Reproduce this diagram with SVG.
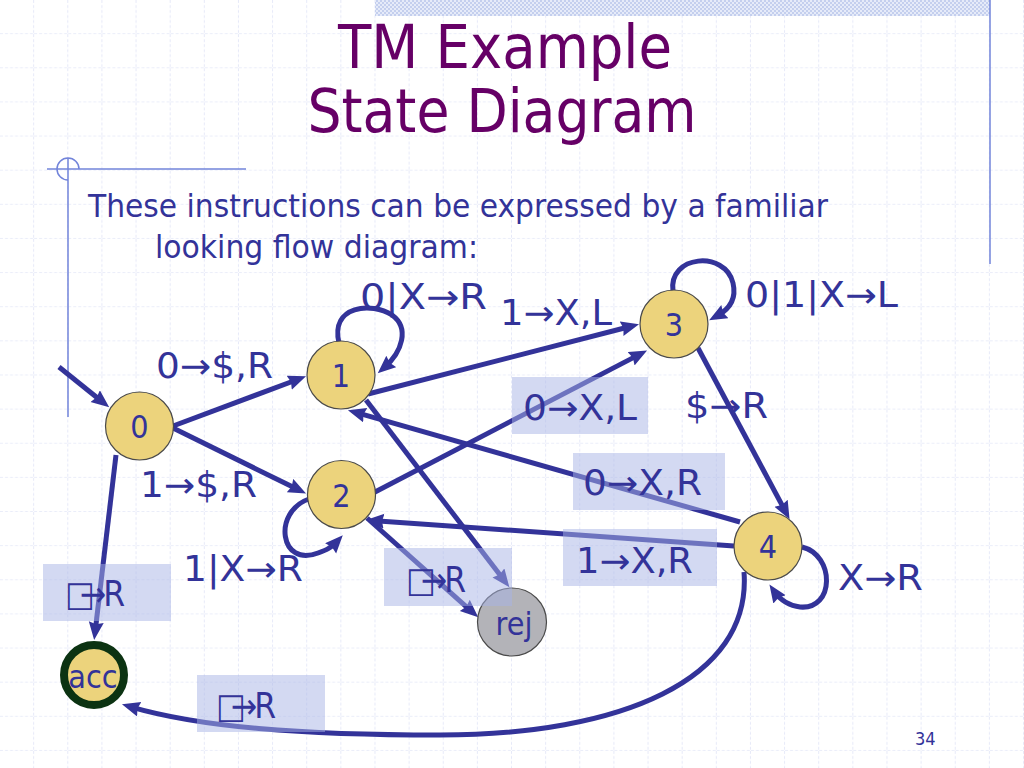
<svg xmlns="http://www.w3.org/2000/svg" width="1024" height="768" viewBox="0 0 1024 768">
<defs>
<pattern id="grid" width="34.133" height="34.133" patternUnits="userSpaceOnUse">
<path d="M34.133 0V34.133M0 34.133H34.133" fill="none" stroke="#d6dbf4" stroke-width="1.2" stroke-dasharray="3 2"/>
</pattern>
<pattern id="dots" width="4" height="4" patternUnits="userSpaceOnUse">
<rect width="4" height="4" fill="#e6ebf9"/>
<rect width="2" height="2" fill="#c4cfee"/>
<rect x="2" y="2" width="2" height="2" fill="#c4cfee"/>
</pattern>
<marker id="ah" markerWidth="20" markerHeight="16" refX="9" refY="7.5" orient="auto" markerUnits="userSpaceOnUse">
<path d="M0,0 L18,7.5 L0,15 L2,7.5 z" fill="#333399"/>
</marker>
<style>
.edge{fill:none;stroke:#333399;stroke-width:5;marker-end:url(#ah)}
.node{fill:#ecd37c;stroke:#4a4a4a;stroke-width:1.2}
.nt{font-family:"DejaVu Sans","Liberation Sans",sans-serif;font-stretch:condensed;font-size:32px;fill:#333399;text-anchor:middle}
.lbl{font-family:"DejaVu Sans","Liberation Sans",sans-serif;font-stretch:condensed;font-size:35px;fill:#333399}
.box{fill:#a7b3e5;fill-opacity:0.5}
.body{font-family:"DejaVu Sans","Liberation Sans",sans-serif;font-stretch:condensed;font-size:32px;fill:#333399}
.title{font-family:"DejaVu Sans","Liberation Sans",sans-serif;font-stretch:condensed;font-size:60px;fill:#660066;text-anchor:middle}
.deco{fill:none;stroke:#7284da;stroke-width:1.5}
</style>
</defs>
<rect width="1024" height="768" fill="#ffffff"/>
<rect width="1024" height="768" fill="url(#grid)"/>
<rect x="375" y="0" width="615" height="16" fill="url(#dots)"/>
<g id="decoration">
<line class="deco" x1="990" y1="0" x2="990" y2="264"/>
<line class="deco" x1="47" y1="169" x2="246" y2="169"/>
<line class="deco" x1="68" y1="158" x2="68" y2="417"/>
<path class="deco" d="M68,180 A11,11 0 1 1 79,169"/>
</g>
<g id="title">
<text class="title" x="505" y="68" textLength="334" lengthAdjust="spacingAndGlyphs">TM Example</text>
<text class="title" x="502" y="132" textLength="389" lengthAdjust="spacingAndGlyphs">State Diagram</text>
</g>
<g id="body">
<text class="body" x="88" y="217" textLength="740" lengthAdjust="spacingAndGlyphs">These instructions can be expressed by a familiar</text>
<text class="body" x="155" y="258" textLength="323" lengthAdjust="spacingAndGlyphs">looking flow diagram:</text>
</g>
<g id="connectors">
<path class="edge" d="M59,367 L102.2,401.7"/>
<path class="edge" d="M173,426 L297.6,379.5"/>
<path class="edge" d="M173,428 L298,489.6"/>
<path class="edge" d="M116,455 L95.2,631.1"/>
<path class="edge" d="M339,343 C330,305 372,302 392,315 C410,328 402,352 384.5,367.4"/>
<path class="edge" d="M368,394 L630.3,326.5"/>
<path class="edge" d="M366,400 L503.9,580.1"/>
<path class="edge" d="M375,492 L639.1,354.6"/>
<path class="edge" d="M309,499 C272,512 280,568 318,553 C326,550 331,548 336.7,541.8"/>
<path class="edge" d="M367,518 L471.5,611.3"/>
<path class="edge" d="M673,291 C668,255 725,250 733,283 C737,300 728,310 717,316"/>
<path class="edge" d="M698,348 L785.3,511.2"/>
<path class="edge" d="M740,522 L356.6,412.7"/>
<path class="edge" d="M734,546 L375,520.7"/>
<path class="edge" d="M802,547 C835,555 835,610 800,607 C790,606 780,600 774.5,591.9"/>
<path class="edge" d="M744,572 C752,680 620,735 440,735 C300,735 200,727 130.6,706.8"/>
</g>
<g id="n0"><circle class="node" cx="139.5" cy="426" r="34"/><text class="nt" x="139.5" y="438">0</text></g>
<g id="n1"><circle class="node" cx="341" cy="375" r="34"/><text class="nt" x="341" y="387">1</text></g>
<g id="n2"><circle class="node" cx="341.5" cy="494.5" r="34"/><text class="nt" x="341.5" y="506.5">2</text></g>
<g id="n3"><circle class="node" cx="674" cy="324" r="34"/><text class="nt" x="674" y="336">3</text></g>
<g id="n4"><circle class="node" cx="768" cy="546" r="34"/><text class="nt" x="768" y="558">4</text></g>
<g id="rej"><ellipse cx="512" cy="622" rx="34.5" ry="34" fill="#b3b3b8" stroke="#4a4a4a" stroke-width="1.2"/><text class="nt" x="514" y="635" font-size="30">rej</text></g>
<g id="acc"><circle cx="94" cy="675" r="30" fill="#ecd37c" stroke="#0c3312" stroke-width="8"/><text class="nt" x="93" y="688" font-size="30">acc</text></g>
<g id="labels">
<rect class="box" x="512" y="377" width="136" height="57"/>
<rect class="box" x="573" y="453" width="152" height="57"/>
<rect class="box" x="563" y="529" width="154" height="57"/>
<rect class="box" x="384" y="548" width="128" height="58"/>
<rect class="box" x="43" y="564" width="128" height="57"/>
<rect class="box" x="197" y="675" width="128" height="57"/>
<text class="lbl" x="360" y="309" textLength="127" lengthAdjust="spacingAndGlyphs">0|X→R</text>
<text class="lbl" x="500" y="325" textLength="112" lengthAdjust="spacingAndGlyphs">1→X,L</text>
<text class="lbl" x="745" y="307" textLength="153" lengthAdjust="spacingAndGlyphs">0|1|X→L</text>
<text class="lbl" x="156" y="378" textLength="117" lengthAdjust="spacingAndGlyphs">0→$,R</text>
<text class="lbl" x="140" y="497" textLength="117" lengthAdjust="spacingAndGlyphs">1→$,R</text>
<text class="lbl" x="523" y="420" textLength="114" lengthAdjust="spacingAndGlyphs">0→X,L</text>
<text class="lbl" x="685" y="418" textLength="83" lengthAdjust="spacingAndGlyphs">$→R</text>
<text class="lbl" x="583" y="495" textLength="119" lengthAdjust="spacingAndGlyphs">0→X,R</text>
<text class="lbl" x="576" y="573" textLength="117" lengthAdjust="spacingAndGlyphs">1→X,R</text>
<text class="lbl" x="838" y="590" textLength="85" lengthAdjust="spacingAndGlyphs">X→R</text>
<text class="lbl" x="183" y="581" textLength="120" lengthAdjust="spacingAndGlyphs">1|X→R</text>
<text class="lbl" x="406" y="592" dx="0 -15 -3">□→R</text>
<text class="lbl" x="65" y="606" dx="0 -15 -3">□→R</text>
<text class="lbl" x="216" y="718" dx="0 -15 -3">□→R</text>
<text x="915" y="745" font-family="DejaVu Sans,sans-serif" font-stretch="condensed" font-size="18" fill="#333399">34</text>
</g>
</svg>
